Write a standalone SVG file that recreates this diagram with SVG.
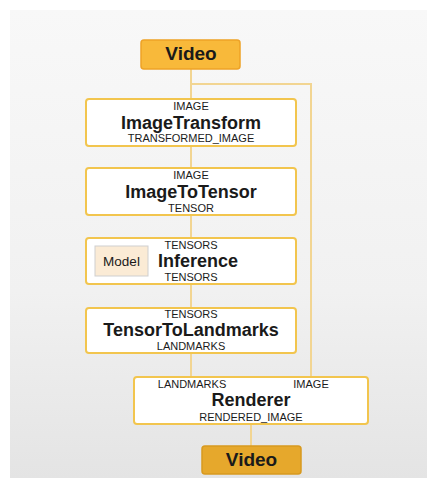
<svg xmlns="http://www.w3.org/2000/svg" width="427" height="478" viewBox="0 0 427 478">
<defs>
<linearGradient id="bg" x1="0" y1="0" x2="0" y2="1">
<stop offset="0" stop-color="#f8f8f8"/>
<stop offset="0.6" stop-color="#f1f1f1"/>
<stop offset="1" stop-color="#e4e4e4"/>
</linearGradient>
<style>
.box{fill:#ffffff;stroke:#f2c54e;stroke-width:2}
.vid{fill:#f8b93a;stroke:#eea226;stroke-width:1.5}
.vid2{fill:#e6a82c;stroke:#d8991f;stroke-width:1.5}
.ln{fill:none;stroke:#f2d592;stroke-width:2}
.t{font-family:"Liberation Sans",Arial,sans-serif;fill:#1a1a1a;text-anchor:middle}
.s{font-size:11px}
.b{font-size:18px;font-weight:bold}
.v{font-size:19px;font-weight:bold}
</style>
</defs>
<rect x="0" y="0" width="427" height="478" fill="#ffffff"/>
<rect x="10" y="10" width="417" height="468" fill="url(#bg)"/>
<g id="connectors">
<path class="ln" d="M191 69V99M191 146V168M191 215V238M191 284V308M191 353V377"/>
<path class="ln" d="M191 84H311V377"/>
<path class="ln" d="M251 424V446"/>
</g>
<g id="video-in">
<rect class="vid" x="141" y="40" width="99" height="29" rx="3"/>
<text class="t v" x="191" y="60">Video</text>
</g>
<g id="imagetransform">
<rect class="box" x="86" y="99" width="210" height="47" rx="3"/>
<text class="t s" x="191" y="110">IMAGE</text>
<text class="t b" x="191" y="129">ImageTransform</text>
<text class="t s" x="191" y="142">TRANSFORMED_IMAGE</text>
</g>
<g id="imagetotensor">
<rect class="box" x="86" y="168" width="210" height="47" rx="3"/>
<text class="t s" x="191" y="179">IMAGE</text>
<text class="t b" x="191" y="198">ImageToTensor</text>
<text class="t s" x="191" y="212">TENSOR</text>
</g>
<g id="inference">
<rect class="box" x="86" y="238" width="210" height="46" rx="3"/>
<rect x="95" y="246" width="53" height="30" fill="#fbebd5" stroke="#cfcfcf" stroke-width="1"/>
<text class="t" x="121.5" y="266" font-size="13.5">Model</text>
<text class="t s" x="191" y="249">TENSORS</text>
<text class="t b" x="198" y="267">Inference</text>
<text class="t s" x="191" y="281">TENSORS</text>
</g>
<g id="tensortolandmarks">
<rect class="box" x="86" y="308" width="210" height="45" rx="3"/>
<text class="t s" x="191" y="318">TENSORS</text>
<text class="t b" x="191" y="336">TensorToLandmarks</text>
<text class="t s" x="191" y="350">LANDMARKS</text>
</g>
<g id="renderer">
<rect class="box" x="134" y="377" width="234" height="47" rx="3"/>
<text class="t s" x="192" y="388">LANDMARKS</text>
<text class="t s" x="311" y="388">IMAGE</text>
<text class="t b" x="251" y="406">Renderer</text>
<text class="t s" x="251" y="421">RENDERED_IMAGE</text>
</g>
<g id="video-out">
<rect class="vid2" x="202" y="446" width="99" height="28" rx="3"/>
<text class="t v" x="251.5" y="466">Video</text>
</g>
</svg>
